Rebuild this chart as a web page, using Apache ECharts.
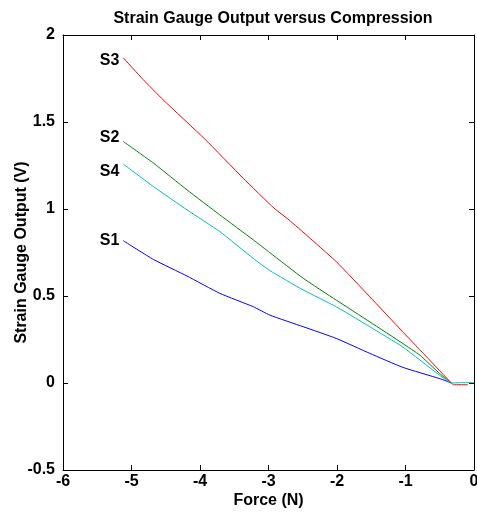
<!DOCTYPE html>
<html>
<head>
<meta charset="utf-8">
<script src="https://cdn.jsdelivr.net/npm/echarts@6/dist/echarts.min.js"></script>
<style>
  html, body { margin: 0; padding: 0; background: #fff; }
  #chart { width: 477px; height: 514px; }
</style>
</head>
<body>
<div id="chart"></div>
<script>
// force (N) readings and outputs (V) for each gauge
var forceS3 = [-5.12, -4.83, -4.54, -3.93, -3.37, -2.92, -2.70, -2.01, -1.52, -1.04, -0.67, -0.33, -0.30, -0.09];
var voltS3 = [1.869, 1.744, 1.628, 1.402, 1.177, 1.005, 0.937, 0.697, 0.495, 0.294, 0.141, 0.0, -0.01, -0.01];

var forceS2 = [-5.12, -4.68, -4.19, -3.71, -3.22, -2.98, -2.49, -2.01, -1.52, -1.04, -0.79, -0.50, -0.33];
var voltS2 = [1.388, 1.264, 1.110, 0.966, 0.822, 0.749, 0.601, 0.476, 0.351, 0.227, 0.160, 0.054, 0.0];

var forceS4 = [-5.12, -4.68, -4.19, -3.71, -3.22, -2.98, -2.49, -2.01, -1.52, -1.04, -0.50, -0.33, -0.20, 0.0];
var voltS4 = [1.258, 1.129, 0.995, 0.870, 0.715, 0.646, 0.534, 0.438, 0.323, 0.207, 0.044, 0.0, 0.002, 0.002];

var forceS1 = [-5.12, -4.68, -4.19, -3.71, -3.22, -2.98, -2.49, -2.01, -1.52, -1.04, -0.50, -0.33];
var voltS1 = [0.818, 0.710, 0.615, 0.515, 0.438, 0.390, 0.323, 0.256, 0.170, 0.090, 0.025, 0.0];

var xTicks = [-6, -5, -4, -3, -2, -1, 0];
var yTicks = [-0.5, 0, 0.5, 1, 1.5, 2];

var font = "Liberation Sans, Arial, sans-serif";
var txt = { fontSize: 16, fontWeight: "bold", color: "#000", fontFamily: font };

function line(name, xs, ys, color) {
  return {
    name: name, type: "line", showSymbol: false, symbol: "none",
    data: xs.map(function (x, i) { return [x, ys[i]]; }),
    lineStyle: { color: color, width: 1 },
    itemStyle: { color: color },
    smooth: 0.15,
    animation: false, z: 3
  };
}

// gauge names written just left of where each trace starts
function nameLabel(name, xs, ys, dy) {
  return {
    value: [xs[0], ys[0]],
    label: Object.assign({ show: true, formatter: name, position: "left", distance: 4, offset: [0, dy] }, txt)
  };
}

var myChart = echarts.init(document.getElementById("chart"));

var axisCommon = {
  type: "value",
  axisLine: { show: true, onZero: false, lineStyle: { color: "#000", width: 1 } },
  axisTick: { show: true, inside: true, length: 5, lineStyle: { color: "#000" } },
  splitLine: { show: false }
};

myChart.setOption({
  backgroundColor: "#fff",
  title: {
    text: "Strain Gauge Output versus Compression",
    left: 268, top: 6, textAlign: "center",
    textStyle: txt
  },
  grid: { left: 63, right: 3, top: 35, bottom: 44, containLabel: false, outerBoundsMode: "none" },
  xAxis: [
    Object.assign({}, axisCommon, {
      min: xTicks[0], max: xTicks[xTicks.length - 1], interval: 1,
      name: "Force (N)", nameLocation: "middle", nameGap: 23, nameMoveOverlap: false,
      nameTextStyle: txt,
      axisLabel: Object.assign({ margin: 4 }, txt)
    }),
    Object.assign({}, axisCommon, {
      position: "top", min: -6, max: 0, interval: 1,
      axisLabel: { show: false }
    })
  ],
  yAxis: [
    Object.assign({}, axisCommon, {
      min: yTicks[0], max: yTicks[yTicks.length - 1], interval: 0.5,
      name: "Strain Gauge Output (V)", nameLocation: "middle", nameGap: 33, nameMoveOverlap: false,
      nameTextStyle: txt,
      axisLabel: Object.assign({ margin: 8 }, txt)
    }),
    Object.assign({}, axisCommon, {
      position: "right", min: -0.5, max: 2, interval: 0.5,
      axisLabel: { show: false }
    })
  ],
  series: [
    line("S1", forceS1, voltS1, "#0000ff"),
    line("S2", forceS2, voltS2, "#008000"),
    line("S3", forceS3, voltS3, "#ff0000"),
    line("S4", forceS4, voltS4, "#00bfbf"),
    {
      type: "scatter", symbolSize: 0, animation: false, silent: true,
      itemStyle: { opacity: 1 },
      data: [
        nameLabel("S3", forceS3, voltS3, 3),
        nameLabel("S2", forceS2, voltS2, -4),
        nameLabel("S4", forceS4, voltS4, 7),
        nameLabel("S1", forceS1, voltS1, 0)
      ]
    }
  ]
});
</script>
</body>
</html>
